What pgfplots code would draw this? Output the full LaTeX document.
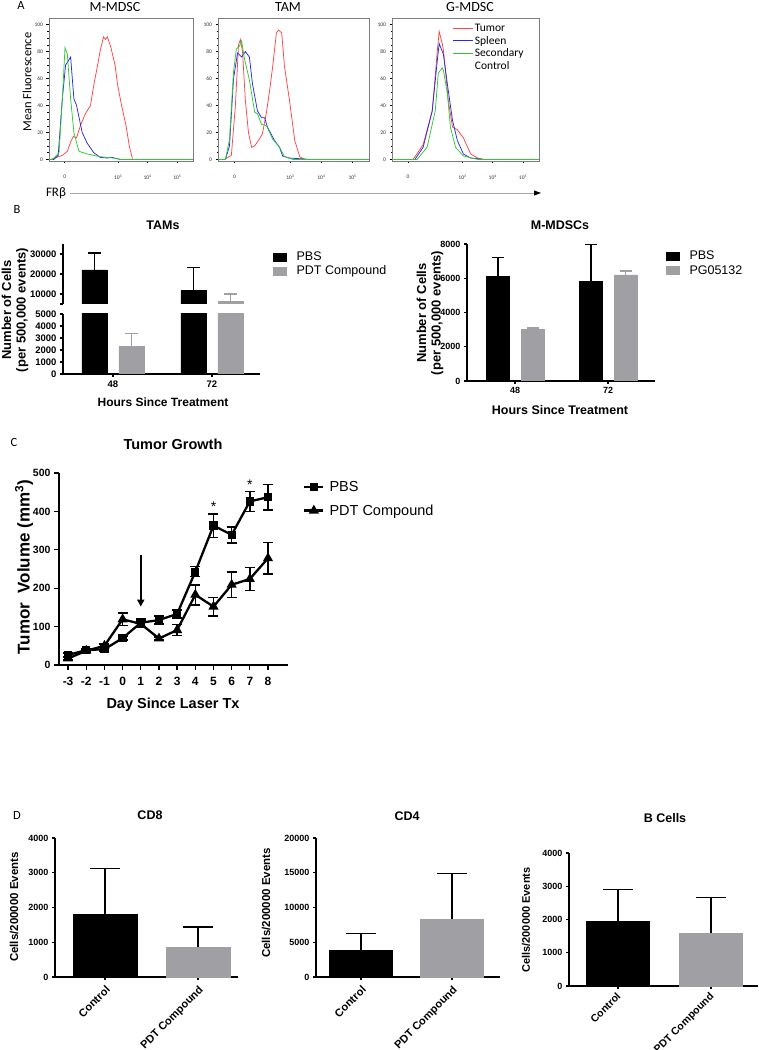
\documentclass[border=0pt]{standalone}
\usepackage{pgfplots}
\usepackage{pgfplotstable}
\pgfplotsset{compat=1.18}
\usepackage{fontspec}
\setmainfont{Liberation Sans}
\newfontfamily\calib{Carlito}
\usetikzlibrary{arrows.meta}
\newcommand\fs[1]{\fontsize{#1}{#1}\selectfont}
\definecolor{gpgray}{RGB}{160,160,164}
\definecolor{fred}{RGB}{250,70,70}
\definecolor{fblue}{RGB}{40,40,230}
\definecolor{fgreen}{RGB}{50,200,50}
\definecolor{framegray}{RGB}{125,125,125}

\pgfplotstableread{
x y e
-3 26 5
-2 39 4
-1 41 5
0 70 5
1 110 10
2 117 10
3 133 11
4 243 13
5 363 31
6 339 21
7 426 26
8 437 33
}\pbsdata
\pgfplotstableread{
x y e
-3 17 4
-2 37 4
-1 50 4
0 119 16
1 107 8
2 69 4
3 91 14
4 183 26
5 152 24
6 209 33
7 224 30
8 278 41
}\pdtdata

\pgfplotsset{
  flow/.style={
    scale only axis, height=143pt,
    xmin=-0.53, xmax=4.33, ymin=-1.2, ymax=105,
    axis line style={framegray, line width=0.7pt},
    xtick={0,1.8,2.8,3.8},
    xticklabels={0,10\textsuperscript{3},10\textsuperscript{4},10\textsuperscript{5}},
    ytick={0,20,40,60,80,100},
    minor y tick num=3,
    minor xtick={-0.45,-0.35,-0.25,-0.15,-0.05,0.05,0.15,0.25,0.35,0.45,0.6,0.8,1.1,1.28,1.4,1.5,1.58,1.65,1.7,1.75,2.1,2.28,2.4,2.5,2.58,2.65,2.7,2.75,3.1,3.28,3.4,3.5,3.58,3.65,3.7,3.75,4.1,4.28},
    xtick pos=left, ytick pos=left,
    tick align=outside,
    major tick length=2.5pt, minor tick length=1.5pt,
    tick style={black, line width=0.5pt},
    minor tick style={black, line width=0.4pt},
    ticklabel style={font=\calib\fs{5.5}, text=black!80},
    xticklabel style={yshift=-8pt},
    /pgf/number format/assume math mode=true,
    every axis plot/.append style={line width=0.75pt, mark=none},
  },
  gp/.style={
    scale only axis,
    axis lines*=left,
    axis line style={line width=1.5pt},
    tick style={black, line width=1.3pt},
    tick align=outside,
    major tick length=3pt,
    ticklabel style={font=\bfseries\fs{9.5}},
    /pgf/number format/assume math mode=true,
    scaled y ticks=false,
    yticklabel style={/pgf/number format/fixed, /pgf/number format/1000 sep={}},
  },
  sqlegend/.style={legend image code/.code={\fill[##1] (0pt,-4pt) rectangle (13pt,4pt); \path (21pt,0pt);}},
  gperr/.style 2 args={
    /pgfplots/error bars/y dir=plus,
    /pgfplots/error bars/y explicit,
    /pgfplots/error bars/error bar style={line width=1.3pt, #1},
    /pgfplots/error bars/error mark options={rotate=90, line width=1.3pt, mark size=#2, #1}},
}

\begin{document}
\begin{tikzpicture}
\path[use as bounding box] (0pt,0pt) rectangle (759pt,1050pt);

% ================= Panel A =================
\node[font=\calib\fs{12.5}] at (21pt,1044pt) {A};
\node[font=\calib\fs{14}] at (115pt,1043pt) {M-MDSC};
\node[font=\calib\fs{14}] at (288pt,1043pt) {TAM};
\node[font=\calib\fs{14}] at (470pt,1043pt) {G-MDSC};
\node[font=\calib\fs{12.5}, rotate=90] at (27pt,968pt) {Mean Fluorescence};
\node[font=\calib\fs{13}] at (56pt,857pt) {FRβ};
\draw[gray!70, line width=0.7pt] (70pt,857pt) -- (536pt,857pt);
\fill[black] (541pt,857pt) -- (534pt,859.6pt) -- (534pt,854.4pt) -- cycle;

\begin{axis}[flow, at={(49pt,889pt)}, anchor=south west, width=144pt]
\addplot[fred] coordinates {(-0.53,0) (-0.47,0) (-0.08,3) (0.09,6) (0.2,13) (0.29,17) (0.4,16) (0.53,25) (0.7,34) (0.87,40) (0.98,55) (1.11,70) (1.2,81) (1.31,91) (1.38,89) (1.44,91) (1.56,83) (1.7,70) (1.78,56) (1.92,40) (2.07,25) (2.18,10) (2.29,0) (4.33,0)};
\addplot[fblue] coordinates {(-0.53,0) (-0.36,0) (-0.22,3) (-0.08,45) (0.03,70) (0.2,76) (0.31,45) (0.4,40) (0.59,20) (0.76,12) (0.98,5) (1.2,1.5) (1.42,1) (1.59,1.5) (1.87,0) (4.33,0)};
\addplot[fgreen] coordinates {(-0.53,0) (-0.41,0) (-0.19,5) (-0.08,45) (0.01,83) (0.09,78) (0.2,45) (0.31,20) (0.48,6) (0.76,4) (1.2,2) (1.64,1) (1.87,0) (4.33,0)};
\end{axis}

\begin{axis}[flow, at={(218pt,889pt)}, anchor=south west, width=151pt]
\addplot[fred] coordinates {(-0.53,0) (-0.32,0) (-0.1,3) (0.03,40) (0.13,85) (0.19,89) (0.26,80) (0.35,44) (0.45,20) (0.55,9) (0.65,10) (0.77,14) (0.9,19) (1.03,35) (1.13,51) (1.23,69) (1.35,94) (1.42,96) (1.52,94) (1.61,69) (1.77,44) (1.94,14) (2.1,2) (2.26,0) (4.33,0)};
\addplot[fblue] coordinates {(-0.53,0) (-0.29,0) (-0.16,10) (-0.03,60) (0.1,79) (0.23,76) (0.35,80) (0.48,76) (0.58,56) (0.74,36) (0.87,31) (0.97,31) (1.06,24) (1.29,14) (1.45,9) (1.55,2.5) (1.77,1) (2.42,0) (4.33,0)};
\addplot[fgreen] coordinates {(-0.53,0) (-0.29,0) (-0.16,15) (-0.03,65) (0.06,82) (0.16,84) (0.23,88) (0.32,75) (0.48,59) (0.65,35) (0.74,34) (0.87,26) (1.03,25) (1.23,15) (1.45,9) (1.61,2) (1.87,0) (4.33,0)};
\end{axis}

\begin{axis}[flow, at={(392pt,889pt)}, anchor=south west, width=147pt,
  legend style={at={(0.408,0.972)}, anchor=north west, draw=none, fill=none,
    font=\calib\fs{11.5}, inner sep=0pt, row sep=-1pt},
  legend cell align=left,
  legend image code/.code={\draw[#1] (0pt,0pt) -- (20pt,0pt);}]
\addplot[fred] coordinates {(-0.53,0) (0.17,0) (0.5,11) (0.8,36) (0.97,81) (1.03,95) (1.13,86) (1.17,81) (1.33,44) (1.47,24) (1.63,22) (1.83,16) (2.07,4) (2.3,1) (2.5,0) (4.33,0)};
\addplot[fblue] coordinates {(-0.53,0) (0.23,0) (0.5,9) (0.8,36) (0.97,74) (1.03,86) (1.17,78) (1.3,56) (1.47,29) (1.63,14) (1.83,4) (2.07,1) (2.5,0) (4.33,0)};
\addplot[fgreen] coordinates {(-0.53,0) (0.3,0) (0.63,9) (0.9,36) (1.0,64) (1.13,68) (1.17,66) (1.3,49) (1.4,24) (1.57,9) (1.83,2.5) (2.3,0) (4.33,0)};
\addlegendentry{Tumor}
\addlegendentry{Spleen}
\addlegendentry{Secondary}
\addlegendimage{empty legend}
\addlegendentry{Control}
\end{axis}

% ================= Panel B =================
\node[font=\calib\fs{12.5}] at (17pt,841pt) {B};
\node[font=\bfseries\fs{12.5}] at (163pt,825pt) {TAMs};
\node[font=\bfseries\fs{12.5}] at (560pt,825pt) {M-MDSCs};
\node[font=\bfseries\fontsize{13}{14.5}\selectfont, rotate=90, align=center] at (15pt,740pt) {Number of Cells\\(per 500,000 events)};
\node[font=\bfseries\fontsize{13}{14.5}\selectfont, rotate=90, align=center] at (430pt,737pt) {Number of Cells\\(per 500,000 events)};
\node[font=\bfseries\fs{12}] at (163pt,648pt) {Hours Since Treatment};
\node[font=\bfseries\fs{12.5}] at (560pt,640pt) {Hours Since Treatment};

% TAMs upper segment
\begin{axis}[gp, ybar, at={(63pt,746pt)}, anchor=south west, width=197pt, height=60pt,
  hide x axis, xmin=-0.505, xmax=1.485, ymin=5000, ymax=35000,
  ytick={10000,20000,30000}, extra y ticks={5000}, extra y tick labels={},
  bar width=25pt,
  legend style={at={(1.066,0.91)}, anchor=north west, draw=none, fill=none,
    font=\fs{12.5}, inner sep=0pt, row sep=0pt},
  legend cell align=left]
\addplot[fill=black, draw=black, bar shift=-18.5pt, sqlegend, gperr={black}{6.5pt}] coordinates {(0,22000) +- (0,8500) (1,11700) +- (0,11600)};
\addplot[fill=gpgray, draw=gpgray, bar shift=18.5pt, sqlegend, gperr={gpgray}{6.5pt}] coordinates {(1,6300) +- (0,3700)};
\legend{PBS, PDT Compound}
\end{axis}
% TAMs lower segment
\begin{axis}[gp, ybar, at={(63pt,676pt)}, anchor=south west, width=197pt, height=60pt,
  xmin=-0.505, xmax=1.485, ymin=0, ymax=5000,
  ytick={0,1000,2000,3000,4000,5000}, xtick={0,1}, xticklabels={48,72},
  bar width=25pt]
\addplot[fill=black, draw=black, bar shift=-18.5pt, gperr={black}{6.5pt}] coordinates {(0,22000) +- (0,8500) (1,11700) +- (0,11600)};
\addplot[fill=gpgray, draw=gpgray, bar shift=18.5pt, gperr={gpgray}{6.5pt}] coordinates {(0,2300) +- (0,1100) (1,6300) +- (0,3700)};
\end{axis}

% M-MDSCs
\begin{axis}[gp, ybar, at={(467pt,669pt)}, anchor=south west, width=188pt, height=137pt,
  xmin=-0.516, xmax=1.505, ymin=0, ymax=8000,
  ytick={0,2000,4000,6000,8000}, xtick={0,1}, xticklabels={48,72},
  ticklabel style={font=\bfseries\fs{9}},
  bar width=23pt,
  legend style={at={(1.058,0.963)}, anchor=north west, draw=none, fill=none,
    font=\fs{12.5}, inner sep=0pt, row sep=0pt},
  legend cell align=left]
\addplot[fill=black, draw=black, bar shift=-17pt, sqlegend, gperr={black}{6pt}] coordinates {(0,6100) +- (0,1120) (1,5800) +- (0,2180)};
\addplot[fill=gpgray, draw=gpgray, bar shift=17.5pt, sqlegend, gperr={gpgray}{6pt}] coordinates {(0,3000) +- (0,100) (1,6200) +- (0,220)};
\legend{PBS, PG05132}
\end{axis}

% ================= Panel C =================
\node[font=\calib\fs{12.5}] at (14pt,608pt) {C};
\node[font=\bfseries\fs{14.5}] at (173pt,606pt) {Tumor Growth};
\node[font=\bfseries\fs{17}, rotate=90] at (24pt,483pt) {Tumor\ \ Volume (mm\textsuperscript{3})};
\node[font=\bfseries\fs{14.5}] at (173pt,345pt) {Day Since Laser Tx};

\begin{axis}[gp, at={(59pt,385pt)}, anchor=south west, width=229pt, height=192pt,
  xmin=-3.5, xmax=9.1, ymin=0, ymax=500,
  major tick length=5pt,
  xtick={-3,-2,-1,0,1,2,3,4,5,6,7,8}, ytick={0,100,200,300,400,500},
  xticklabel style={font=\bfseries\fs{12}, yshift=-4pt}, yticklabel style={font=\bfseries\fs{10.5}},
  clip=false,
  legend style={at={(1.0655,0.97)}, anchor=north west, draw=none, fill=none,
    font=\fs{14.5}, inner sep=0pt, row sep=8pt},
  legend cell align=left,
  legend image code/.code={\draw[mark repeat=2, mark phase=2, #1] plot coordinates {(0pt,0pt) (9.5pt,0pt) (19pt,0pt)}; \path (22pt,0pt);}]
\addplot[black, line width=2.3pt, mark=square*, mark size=3pt, mark options={solid},
  error bars/.cd, y dir=both, y explicit,
  error bar style={line width=1.6pt}, error mark options={rotate=90, line width=1.6pt, mark size=5pt}]
  table[x=x, y=y, y error=e] {\pbsdata};
\addplot[black, line width=2.3pt, mark=triangle*, mark size=3.6pt, mark options={solid},
  error bars/.cd, y dir=both, y explicit,
  error bar style={line width=1.6pt}, error mark options={rotate=90, line width=1.6pt, mark size=5pt}]
  table[x=x, y=y, y error=e] {\pdtdata};
\legend{PBS, PDT Compound}
\draw[line width=2pt, -{Triangle[length=7pt, width=7pt]}] (axis cs:1,287) -- (axis cs:1,152);
\node[font=\fs{14}, anchor=base] at (axis cs:5,401) {*};
\node[font=\fs{14}, anchor=base] at (axis cs:7,456) {*};
\end{axis}

% ================= Panel D =================
\node[font=\calib\fs{12.5}] at (17pt,235pt) {D};
\node[font=\bfseries\fs{12.5}] at (150pt,235pt) {CD8};
\node[font=\bfseries\fs{12.5}] at (407pt,234pt) {CD4};
\node[font=\bfseries\fs{12.5}] at (665pt,232pt) {B Cells};
\node[font=\bfseries\fs{11.5}, rotate=90] at (14pt,143pt) {Cells/200000 Events};
\node[font=\bfseries\fs{11.5}, rotate=90] at (266pt,147pt) {Cells/200000 Events};
\node[font=\bfseries\fs{11}, rotate=90] at (526pt,130pt) {Cells/200000 Events};

\begin{axis}[gp, ybar, at={(55pt,73pt)}, anchor=south west, width=183pt, height=139pt,
  xmin=-0.538, xmax=1.43, ymin=0, ymax=4000,
  ytick={0,1000,2000,3000,4000}, xtick={0,1}, xticklabels={Control, PDT Compound},
  ticklabel style={font=\bfseries\fs{9}},
  xticklabel style={rotate=45, anchor=north east, font=\bfseries\fs{11}},
  bar width=64pt]
\addplot[fill=black, draw=black, bar shift=0pt, gperr={black}{15pt}] coordinates {(0,1810) +- (0,1310)};
\addplot[fill=gpgray, draw=gpgray, bar shift=0pt, gperr={black}{15pt}] coordinates {(1,850) +- (0,590)};
\end{axis}

\begin{axis}[gp, ybar, at={(316pt,73pt)}, anchor=south west, width=184pt, height=139pt,
  xmin=-0.495, xmax=1.527, ymin=0, ymax=20000,
  ytick={0,5000,10000,15000,20000}, xtick={0,1}, xticklabels={Control, PDT Compound},
  ticklabel style={font=\bfseries\fs{9}},
  xticklabel style={rotate=45, anchor=north east, font=\bfseries\fs{11}},
  bar width=63pt]
\addplot[fill=black, draw=black, bar shift=0pt, gperr={black}{15pt}] coordinates {(0,3800) +- (0,2500)};
\addplot[fill=gpgray, draw=gpgray, bar shift=0pt, gperr={black}{15pt}] coordinates {(1,8350) +- (0,6550)};
\end{axis}

\begin{axis}[gp, ybar, at={(569pt,64pt)}, anchor=south west, width=189pt, height=133pt,
  xmin=-0.527, xmax=1.505, ymin=0, ymax=4000,
  ytick={0,1000,2000,3000,4000}, xtick={0,1}, xticklabels={Control, PDT Compound},
  ticklabel style={font=\bfseries\fs{9}},
  xticklabel style={rotate=45, anchor=north east, font=\bfseries\fs{10.5}, yshift=3pt},
  bar width=63pt]
\addplot[fill=black, draw=black, bar shift=0pt, gperr={black}{15pt}] coordinates {(0,1960) +- (0,950)};
\addplot[fill=gpgray, draw=gpgray, bar shift=0pt, gperr={black}{15pt}] coordinates {(1,1600) +- (0,1060)};
\end{axis}
\end{tikzpicture}
\end{document}
